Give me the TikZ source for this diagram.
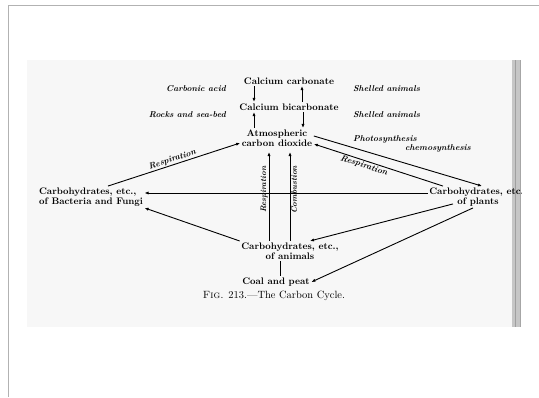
\documentclass[tikz,border=0pt]{standalone}
\usepackage{tikz}
\usetikzlibrary{arrows.meta}

\begin{document}
\begin{tikzpicture}[
  x=1pt, y=-1pt,
  stage/.style={inner sep=1.5pt, align=center, font=\fontsize{9.5}{10}\selectfont\bfseries},
  note/.style={inner sep=1pt, font=\fontsize{8.5}{9}\selectfont\bfseries\itshape},
  vnote/.style={inner sep=0.8pt, font=\fontsize{8}{9}\selectfont\bfseries\itshape},
  caption/.style={inner sep=1pt, font=\fontsize{10.5}{11}\selectfont},
  flow/.style={-{Latex[length=4pt,width=3.2pt]}, line width=0.9pt},
  tie/.style={line width=0.9pt}
]
\useasboundingbox (0,0) rectangle (539,397);
% page frame and scanned sheet
\draw[gray!60, line width=0.8pt] (8,397) -- (8,5) -- (539,5);
\fill[gray!6] (27,60) rectangle (521,327);

\begin{scope}
\clip (27,60) rectangle (521,327);
% binding edge of the book
\fill[gray!45] (512,60) rectangle (521,327);
\draw[gray!75, line width=0.8pt] (515,60) -- (515,327);
\draw[gray!70, line width=0.8pt] (520,60) -- (520,327);

% main stages
\node[stage] (ccarb) at (289,81) {Calcium carbonate};
\node[stage] (cbicarb) at (289,107) {Calcium bicarbonate};
\node[stage] (atmos) at (277,138) {Atmospheric\\carbon dioxide};
\node[stage, align=left] (bact) at (91,197) {Carbohydrates, etc.,\\of Bacteria and Fungi};
\node[stage] (plants) at (478,197) {Carbohydrates, etc.,\\of plants};
\node[stage] (animals) at (290,251) {Carbohydrates, etc.,\\of animals};
\node[stage] (coal) at (276,282) {Coal and peat};
\node[caption] (fig) at (274,296) {\textsc{Fig.} 213.---The Carbon Cycle.};

% side notes
\node[note, anchor=east] (acid) at (227,89) {Carbonic acid};
\node[note, anchor=east] (rocks) at (227,115) {Rocks and sea-bed};
\node[note, anchor=west] (shellA) at (352,89) {Shelled animals};
\node[note, anchor=west] (shellB) at (352,115) {Shelled animals};
\node[note, anchor=west] (photo) at (352,139) {Photosynthesis};
\node[note] (chemo) at (438,148) {chemosynthesis};

% carbonate exchange
\draw[flow] ([xshift=-35pt]ccarb.south) -- ([xshift=-35pt]cbicarb.north);
\draw[flow] ([xshift=13pt]cbicarb.north) -- ([xshift=13pt]ccarb.south);
\draw[flow] ([xshift=-23pt]atmos.north) -- ([xshift=-35pt]cbicarb.south);
\draw[flow] ([xshift=14pt]cbicarb.south) -- ([xshift=26pt]atmos.north);

% cycle
\draw[flow] ([xshift=17pt]bact.north) -- node[note, sloped, above] {Respiration} ([yshift=-5pt]atmos.west);
\draw[flow] ([yshift=2pt]atmos.east) -- ([xshift=4pt]plants.north);
\draw[flow] ([xshift=-35pt]plants.north) -- node[note, sloped, below, pos=0.6] {Respiration} ([yshift=-6pt]atmos.east);
\draw[flow] ([yshift=4pt]plants.west) -- ([yshift=4pt]bact.east);
\draw[flow] (animals.north west) -- (bact.south east);
\draw[flow] ([xshift=-25pt,yshift=4pt]plants.south) -- ([xshift=20pt]animals.north);
\draw[flow] ([xshift=-5pt]plants.south) -- (coal.east);
\draw[tie] ([xshift=-10pt]animals.south) -- ([xshift=4pt]coal.north);
\draw[flow, shorten >=4pt] ([xshift=-21pt]animals.north) -- node[vnote, sloped, above, pos=0.55] {Respiration} ([xshift=-8pt]atmos.south);
\draw[flow, shorten >=4pt] (animals.north) -- node[vnote, sloped, below, pos=0.55] {Combustion} ([xshift=13pt]atmos.south);
\end{scope}
\end{tikzpicture}
\end{document}
